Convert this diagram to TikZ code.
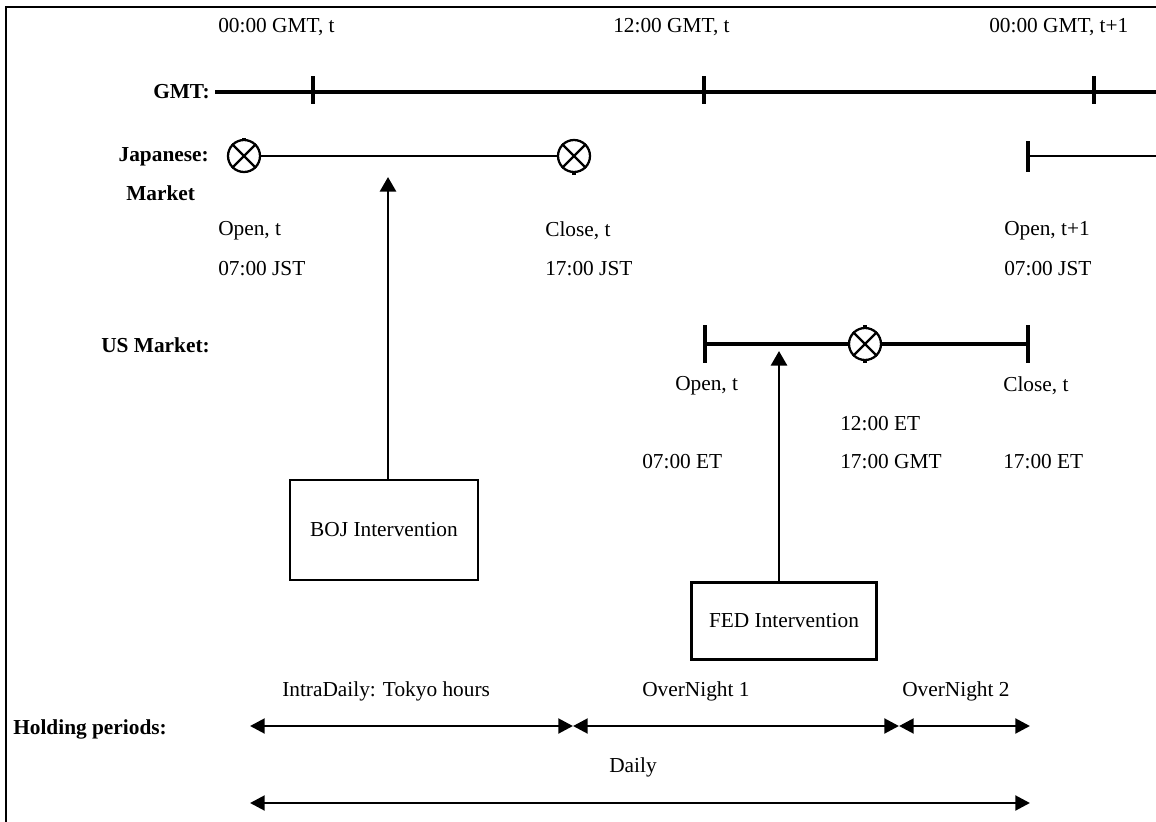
\documentclass[tikz,border=0pt]{standalone}
\usepackage{fontspec}
\setmainfont{Liberation Serif}
\usepackage{tikz}
\usetikzlibrary{arrows.meta}

\begin{document}
\begin{tikzpicture}[x=0.75pt,y=-0.75pt,
	every node/.style={font=\fontsize{16}{19}\selectfont, inner sep=0pt},
	lbl/.style={anchor=west},
	hd/.style={anchor=east, font=\fontsize{16}{19}\selectfont\bfseries},
	axisline/.style={line width=2.4pt},
	mline/.style={line width=2.1pt},
	tickline/.style={line width=2.4pt},
	xmark/.style={circle, draw, fill=white, line width=1.7pt, minimum size=24pt},
	evbox/.style={rectangle, draw, line width=1.8pt},
	uparrow/.style={line width=2.2pt, -{Triangle[length=11pt,width=12pt]}},
	period/.style={line width=2.2pt, {Triangle[length=11pt,width=11pt]}-{Triangle[length=11pt,width=11pt]}}]
	
	\useasboundingbox (0,0) rectangle (1156,821);
	\draw[line width=1.8pt] (6,830) -- (6,7) -- (1160,7);
	
	% GMT axis
	\node[lbl] (t0) at (218,27) {00:00 GMT, t};
	\node[lbl] (t1) at (613,27) {12:00 GMT, t};
	\node[lbl] (t2) at (989,27) {00:00 GMT, t+1};
	\node[hd] (gmt) at (210,92) {GMT:};
	\coordinate (g0) at (215,92);
	\coordinate (g1) at (1160,92);
	\draw[axisline] (g0) -- (g1);
	\foreach \x in {313,704,1094}
		\draw[tickline] (\x,76) -- (\x,104);
	
	% Japanese market
	\node[hd] (jp) at (209,157) {Japanese:};
	\node[lbl, font=\fontsize{16}{19}\selectfont\bfseries] (jpm) at (126,193) {Market};
	\draw[tickline] (244,138) -- (244,160);
	\draw[tickline] (574,152) -- (574,175);
	\node[xmark] (jo) at (244,156) {};
	\node[xmark] (jc) at (574,156) {};
	\draw[mline] (jo) -- (jc);
	\coordinate (jn) at (1028,156);
	\coordinate (je) at (1160,156);
	\draw[tickline] (1028,141) -- (1028,172);
	\draw[mline] (jn) -- (je);
	\node[lbl] (jol) at (218,231) {Open, t};
	\node[lbl] (jot) at (218,269) {07:00 JST};
	\node[lbl] (jcl) at (545,231) {Close, t};
	\node[lbl] (jct) at (545,269) {17:00 JST};
	\node[lbl] (jnl) at (1004,231) {Open, t+1};
	\node[lbl] (jnt) at (1004,269) {07:00 JST};
	
	% US market
	\node[hd] (us) at (210,345) {US Market:};
	\draw[tickline] (705,325) -- (705,363);
	\draw[tickline] (865,325) -- (865,363);
	\draw[tickline] (1028,325) -- (1028,363);
	\coordinate (uo) at (705,344);
	\coordinate (ue) at (1028,344);
	\node[xmark] (uc) at (865,344) {};
	\draw[axisline] (uo) -- (uc) -- (ue);
	\node[lbl] (uol) at (675,386) {Open, t};
	\node[lbl] (uel) at (1003,386) {Close, t};
	\node[lbl] (ucl) at (840,424) {12:00 ET};
	\node[lbl] (uot) at (642,462) {07:00 ET};
	\node[lbl] (uct) at (840,462) {17:00 GMT};
	\node[lbl] (uet) at (1003,462) {17:00 ET};
	
	% crosses in the circles
	\foreach \m in {jo,jc,uc}
		\draw[line width=1.7pt] (\m.north east) -- (\m.south west) (\m.north west) -- (\m.south east);
	
	% interventions
	\node[evbox, minimum width=141pt, minimum height=75pt] (boj) at (384,530) {BOJ Intervention};
	\node[evbox, minimum width=139pt, minimum height=58pt] (fed) at (784,621) {FED Intervention};
	\coordinate (bojtip) at (388,177);
	\coordinate (fedtip) at (779,351);
	\draw[uparrow] (boj.north -| bojtip) -- (bojtip);
	\draw[uparrow] (fed.north -| fedtip) -- (fedtip);
	
	% holding periods
	\node[lbl, font=\fontsize{16}{19}\selectfont\bfseries] (hp) at (13,729) {Holding periods:};
	\node[lbl] (p1) at (282,691) {IntraDaily: Tokyo hours};
	\node[lbl] (p2) at (642,691) {OverNight 1};
	\node[lbl] (p3) at (902,691) {OverNight 2};
	\node[lbl] (pd) at (609,767) {Daily};
	\coordinate (h0) at (250,726);
	\coordinate (h1) at (573,726);
	\coordinate (h2) at (899,726);
	\coordinate (h3) at (1030,726);
	\draw[period] (h0) -- (h1);
	\draw[period] (h1) -- (h2);
	\draw[period] (h2) -- (h3);
	\coordinate (d0) at (250,803);
	\coordinate (d1) at (1030,803);
	\draw[period] (d0) -- (d1);
	
\end{tikzpicture}
\end{document}
